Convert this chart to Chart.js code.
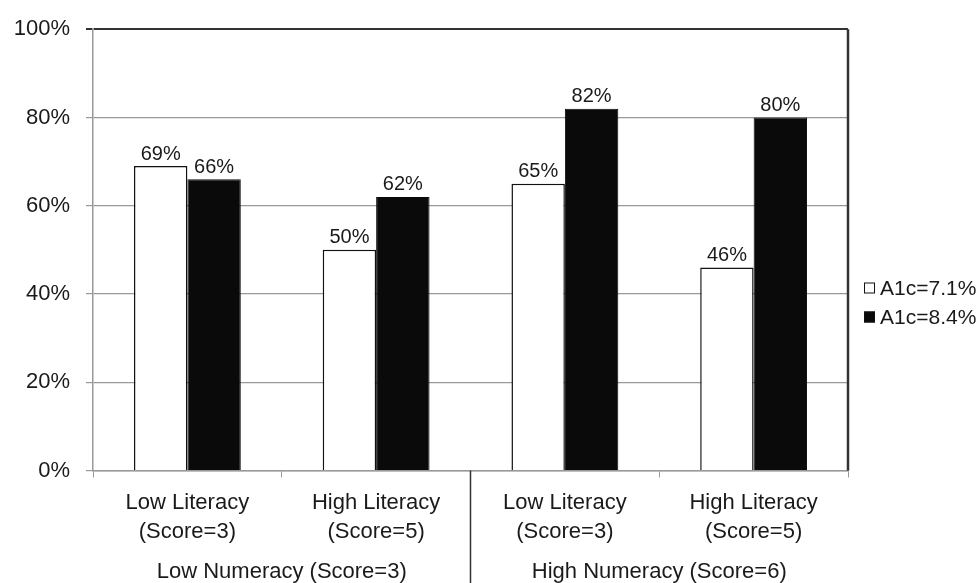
<!DOCTYPE html>
<html>
<head>
<meta charset="utf-8">
<script src="https://cdn.jsdelivr.net/npm/chart.js@4.4.0/dist/chart.umd.min.js"></script>
<style>
  html, body { margin: 0; padding: 0; background: #fff; }
</style>
</head>
<body>
<canvas id="bar-chart" width="979" height="583"></canvas>
<script>
const categories = [
  ["Low Literacy", "(Score=3)"],
  ["High Literacy", "(Score=5)"],
  ["Low Literacy", "(Score=3)"],
  ["High Literacy", "(Score=5)"],
];
const groups = ["Low Numeracy (Score=3)", "High Numeracy (Score=6)"];
const seriesNames = ["A1c=7.1%", "A1c=8.4%"];
const a1c71 = [69, 50, 65, 46];
const a1c84 = [66, 62, 82, 80];

const FONT = "'Liberation Sans', Arial, sans-serif";
const TEXT = "#1a1a1a";

// value labels above every bar
const valueLabels = {
  id: "valueLabels",
  afterDatasetsDraw(chart) {
    const ctx = chart.ctx;
    ctx.save();
    ctx.font = "20px " + FONT;
    ctx.fillStyle = TEXT;
    ctx.textAlign = "center";
    ctx.textBaseline = "bottom";
    chart.data.datasets.forEach((ds, i) => {
      chart.getDatasetMeta(i).data.forEach((bar, j) => {
        ctx.fillText(ds.data[j] + "%", bar.x, bar.y - 2);
      });
    });
    ctx.restore();
  },
};

// plot frame on the right, group divider + group labels, legend
const extras = {
  id: "extras",
  afterDraw(chart) {
    const ctx = chart.ctx;
    const area = chart.chartArea;
    const x = chart.scales.x;
    ctx.save();

    ctx.strokeStyle = "#333";
    ctx.lineWidth = 2.5;
    ctx.beginPath();
    ctx.moveTo(area.right, area.top);
    ctx.lineTo(area.right, area.bottom);
    ctx.stroke();

    // divider between the two numeracy groups
    const mid = (x.getPixelForValue(1) + x.getPixelForValue(2)) / 2;
    ctx.lineWidth = 1.5;
    ctx.beginPath();
    ctx.moveTo(mid, area.bottom);
    ctx.lineTo(mid, chart.height);
    ctx.stroke();

    ctx.font = "22px " + FONT;
    ctx.fillStyle = TEXT;
    ctx.textAlign = "center";
    ctx.textBaseline = "middle";
    ctx.fillText(groups[0], (area.left + mid) / 2, 572);
    ctx.fillText(groups[1], (mid + area.right) / 2, 572);

    // legend
    ctx.font = "21px " + FONT;
    ctx.textAlign = "left";
    chart.data.datasets.forEach((ds, i) => {
      const y = 288 + i * 29;
      ctx.fillStyle = ds.backgroundColor;
      ctx.fillRect(area.right + 16, y - 5.5, 11, 11);
      ctx.strokeStyle = "#111";
      ctx.lineWidth = 1;
      ctx.strokeRect(area.right + 16.5, y - 5, 10, 10);
      ctx.fillStyle = TEXT;
      ctx.fillText(seriesNames[i], area.right + 32, y + 1);
    });
    ctx.restore();
  },
};

new Chart(document.getElementById("bar-chart"), {
  type: "bar",
  data: {
    labels: categories,
    datasets: [
      {
        label: seriesNames[0],
        data: a1c71,
        backgroundColor: "#ffffff",
        borderColor: "#111",
        borderWidth: 1.5,
        categoryPercentage: 0.566,
        barPercentage: 1,
      },
      {
        label: seriesNames[1],
        data: a1c84,
        backgroundColor: "#0a0a0a",
        borderColor: "#0a0a0a",
        borderWidth: 1,
        categoryPercentage: 0.566,
        barPercentage: 1,
      },
    ],
  },
  options: {
    responsive: false,
    animation: false,
    layout: { padding: { top: 25, right: 131, left: 0, bottom: 0 } },
    plugins: {
      legend: { display: false },
      tooltip: { enabled: false },
    },
    scales: {
      x: {
        afterFit: (s) => { s.height = 112.5; },
        grid: {
          offset: true,
          drawOnChartArea: false,
          tickLength: 7,
          color: "#999",
        },
        border: { color: "#999", width: 1.5 },
        ticks: {
          color: TEXT,
          padding: 11,
          font: { size: 22, family: FONT, lineHeight: 1.32 },
          maxRotation: 0,
        },
      },
      y: {
        min: 0,
        max: 100,
        afterFit: (s) => { s.width = 93; },
        grid: {
          tickLength: 7,
          color: (c) => (c.tick && c.tick.value === 100 ? "#333" : "#999"),
          lineWidth: (c) => (c.tick && c.tick.value === 100 ? 2 : 1.2),
        },
        border: { color: "#999", width: 1.5 },
        ticks: {
          stepSize: 20,
          color: TEXT,
          padding: 16,
          font: { size: 22, family: FONT },
          callback: (v) => v + "%",
        },
      },
    },
  },
  plugins: [valueLabels, extras],
});
</script>
</body>
</html>
